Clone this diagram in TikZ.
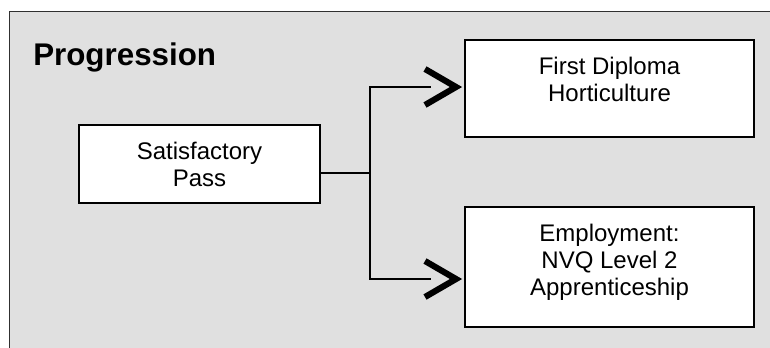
\documentclass[tikz,border=0pt]{standalone}
\usepackage{fontspec}
\setmainfont{Liberation Sans}
\usetikzlibrary{calc}
\definecolor{panelgray}{RGB}{224,224,224}
\definecolor{framegray}{RGB}{48,48,48}
\newcommand{\stagetext}[3]{\parbox[c][#2][t]{#1}{\centering\vspace*{13pt}#3}}
\tikzset{
  panel/.style={draw=framegray, line width=0.75pt, fill=panelgray},
  ttl/.style={font=\fontsize{23.5}{28}\selectfont\bfseries, inner sep=0pt, anchor=base west},
  stage/.style={draw, line width=1.5pt, fill=white, inner sep=0pt,
                font=\fontsize{18}{20.25}\selectfont},
  conn/.style={line width=1.5pt},
  chev/.style={line width=4.6pt, miter limit=10},
}

\begin{document}
\begin{tikzpicture}[x=0.75pt, y=-0.75pt]
  \useasboundingbox (0,0) rectangle (770,347);
  \clip (0,0) rectangle (770,347);
  % background panel, open to the right and bottom
  \draw[panel] (9,11) rectangle (800,380);
  \node[ttl] (ttl) at (33,65) {Progression};
  % stages
  \node[stage] (pass) at (199.5,164) {\stagetext{180.75pt}{58.5pt}{Satisfactory\\Pass}};
  \node[stage] (dipl) at (609.5,88.5) {\stagetext{216.75pt}{72.75pt}{First Diploma\\Horticulture}};
  \node[stage] (empl) at (609.5,267) {\stagetext{216.75pt}{90pt}{Employment:\\NVQ Level 2\\Apprenticeship}};
  % connectors
  \coordinate (split) at ($(pass.east)+(49,9)$);
  \coordinate (tipA) at ($(dipl.west)+(-8,-1.5)$);
  \coordinate (tipB) at ($(empl.west)+(-8,12)$);
  \draw[conn] ($(pass.east)+(0,9)$) -- (split) |- ([xshift=-18.75pt]tipA);
  \draw[conn] (split) |- ([xshift=-18.75pt]tipB);
  \foreach \t in {tipA,tipB}
    \draw[chev] ($(\t)+(-31,-18)$) -- (\t) -- ($(\t)+(-31,18)$);
\end{tikzpicture}
\end{document}
